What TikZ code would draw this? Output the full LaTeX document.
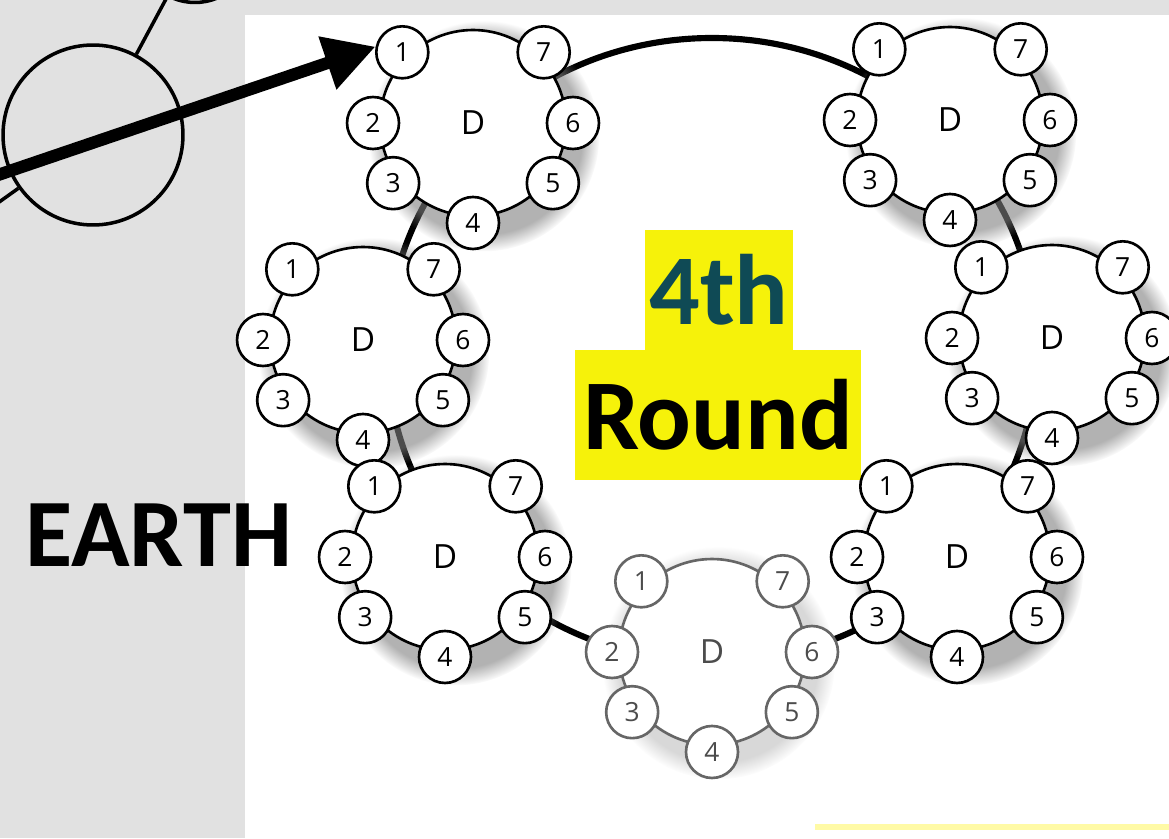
\documentclass[tikz,border=0pt]{standalone}
\usepackage{fontspec}
\setmainfont{Open Sans}
\newfontfamily\headfont{Carlito}
\usetikzlibrary{arrows.meta,calc,shadows}

\definecolor{panelgray}{HTML}{E1E1E1}
\definecolor{roundyellow}{HTML}{F6F20A}
\definecolor{fourthteal}{HTML}{0F4A55}

% one D with its seven numbered seats
\newcommand{\dcluster}[3][glow]{%
  \node[body,#1] (#2) at (#3) {D};
  \foreach \n/\a in {1/135,2/180,3/217,4/270,5/323,6/0,7/45}
    \node[petal] (#2-\n) at ($(#2)+(\a:2cm)$) {\n};
}

\begin{document}
\begin{tikzpicture}[
    x=0.02cm, y=-0.02cm,
    every node/.style={inner sep=0pt},
    body/.style={circle, draw, fill=white, line width=1.5pt, minimum size=3.72cm, font=\fontsize{19}{19}\selectfont},
    glow/.style={circular drop shadow={shadow xshift=5pt, shadow yshift=-6pt, shadow scale=1.24, opacity=0.6}},
    faded/.style={draw=black!60, text=black!70, circular drop shadow={shadow xshift=3pt, shadow yshift=-5pt, shadow scale=1.25, opacity=0.3}},
    petal/.style={circle, draw, fill=white, line width=1.5pt, minimum size=1.04cm, font=\fontsize{15}{15}\selectfont},
    ring/.style={circle, draw, line width=2pt},
    tag/.style={fill=roundyellow, font=\headfont\bfseries\fontsize{57}{57}\selectfont},
    pointer/.style={-{Triangle[length=29pt, width=30pt]}, line width=7pt}
]
\useasboundingbox (0,0) rectangle (1169,838);
\clip (0,0) rectangle (1169,838);
\fill[panelgray] (0,0) rectangle (1169,838);
\fill[white] (245,15) rectangle (1169,838);

% left side
\node[ring, minimum size=3.6cm] (earthring) at (93,135) {};
\node[ring, minimum size=2.3cm] (upring) at (195,-55) {};
\node[ring, minimum size=2.4cm] (sidering) at (-75,255) {};
\draw[line width=2pt] (earthring) -- (upring);
\draw[line width=2pt] (earthring) -- (sidering);
\node[anchor=base west, font=\headfont\bfseries\fontsize{55}{55}\selectfont] (earth) at (25,566) {EARTH};

% the big ring
\draw[line width=3.5pt] (712,350) ellipse [x radius=325, y radius=312];

\node[tag, minimum width=5.74cm, minimum height=2.6cm] (round) at (718,415) {Round};
\node[tag, minimum width=2.96cm, minimum height=2.4cm, text=fourthteal] (fourth) at (719,290) {4th};

\dcluster{tl}{473,123}
\dcluster{tr}{950,120}
\dcluster{ml}{363,340}
\dcluster{mr}{1052,338}
\dcluster{bl}{445,557}
\dcluster{br}{957,557}
\begin{scope}[petal/.append style={draw=black!60, text=black!70}]
\dcluster[faded]{bot}{712,652}
\end{scope}

\draw[yellow!35, line width=3pt] (815,827) -- (1169,827);

\coordinate (tail) at (-5,176);
\draw[pointer] (tail) -- (tl-1.168);
\end{tikzpicture}
\end{document}
